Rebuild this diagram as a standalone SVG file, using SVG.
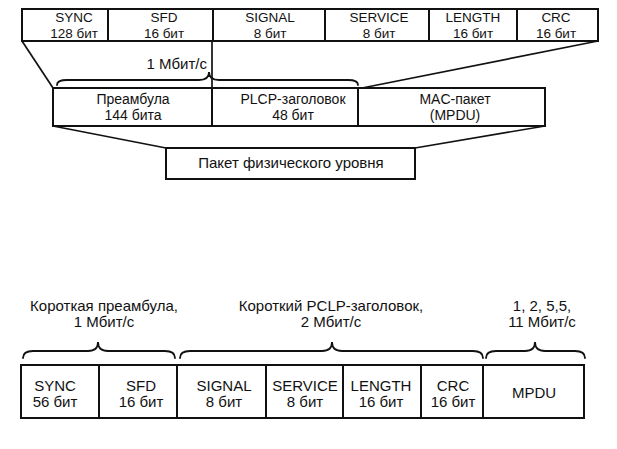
<svg xmlns="http://www.w3.org/2000/svg" width="617" height="449" viewBox="0 0 617 449">
<style>
.box{fill:#fff;stroke:#111;stroke-width:2}
.ln{fill:none;stroke:#111;stroke-width:1.7}
.br{fill:none;stroke:#111;stroke-width:1.8;stroke-linecap:round}
text{font-family:"Liberation Sans","DejaVu Sans",sans-serif;font-size:15px;fill:#111;text-anchor:middle}
.t13{font-size:13.5px}
.t14{font-size:14px}
</style>
<rect width="617" height="449" fill="#fff"/>

<g id="connectors">
<line class="ln" x1="22" y1="41" x2="53" y2="88"/>
<line class="ln" x1="212" y1="41" x2="212" y2="88"/>
<line class="ln" x1="598" y1="41" x2="362" y2="88"/>
<line class="ln" x1="53" y1="126" x2="166" y2="148"/>
<line class="ln" x1="545" y1="126" x2="415" y2="148"/>
</g>

<g id="braces">
<path class="br" d="M57,85 Q57,80 67,80 L199,80 Q209,80 209,72 Q209,80 219,80 L348,80 Q358,80 358,85"/>
<path class="br" d="M23,358 Q23,351 33,351 L88,351 Q98,351 98,342 Q98,351 108,351 L165,351 Q175,351 175,358"/>
<path class="br" d="M180,358 Q180,351 190,351 L322,351 Q332,351 332,342 Q332,351 342,351 L473,351 Q483,351 483,358"/>
<path class="br" d="M486,358 Q486,351 496,351 L525,351 Q535,351 535,342 Q535,351 545,351 L575,351 Q585,351 585,358"/>
</g>

<g id="top-sync"><rect class="box" x="22" y="9" width="86" height="32"/><text class="t13" x="74" y="22">SYNC</text><text class="t13" x="74" y="37.5">128 бит</text></g>
<g id="top-sfd"><rect class="box" x="108" y="9" width="105" height="32"/><text class="t13" x="164" y="22">SFD</text><text class="t13" x="164" y="37.5">16 бит</text></g>
<g id="top-signal"><rect class="box" x="213" y="9" width="112" height="32"/><text class="t13" x="270" y="22">SIGNAL</text><text class="t13" x="270" y="37.5">8 бит</text></g>
<g id="top-service"><rect class="box" x="325" y="9" width="104" height="32"/><text class="t13" x="379" y="22">SERVICE</text><text class="t13" x="379" y="37.5">8 бит</text></g>
<g id="top-length"><rect class="box" x="429" y="9" width="88" height="32"/><text class="t13" x="473" y="22">LENGTH</text><text class="t13" x="473" y="37.5">16 бит</text></g>
<g id="top-crc"><rect class="box" x="517" y="9" width="81" height="32"/><text class="t13" x="556" y="22">CRC</text><text class="t13" x="556" y="37.5">16 бит</text></g>

<g id="rate-label"><text x="207" y="69" style="text-anchor:end">1 Мбит/с</text></g>

<g id="mid-preamble"><rect class="box" x="53" y="88" width="159" height="38"/><text class="t14" x="133" y="104">Преамбула</text><text class="t14" x="133" y="120">144 бита</text></g>
<g id="mid-plcp"><rect class="box" x="212" y="88" width="146" height="38"/><text class="t14" x="293" y="104">PLCP-заголовок</text><text class="t14" x="293" y="120">48 бит</text></g>
<g id="mid-mac"><rect class="box" x="358" y="88" width="187" height="38"/><text class="t14" x="455" y="104">MAC-пакет</text><text class="t14" x="455" y="120">(MPDU)</text></g>

<g id="phy-packet"><rect class="box" x="166" y="148" width="249" height="31"/><text x="291" y="168">Пакет физического уровня</text></g>

<g id="lbl-short-preamble"><text x="104" y="311">Короткая преамбула,</text><text x="104" y="327">1 Мбит/с</text></g>
<g id="lbl-short-plcp"><text x="331" y="311">Короткий PCLP-заголовок,</text><text x="331" y="327">2 Мбит/с</text></g>
<g id="lbl-mpdu-rate"><text x="542" y="311">1, 2, 5,5,</text><text x="542" y="327">11 Мбит/с</text></g>

<g id="b-sync"><rect class="box" x="21" y="365" width="78" height="53"/><text x="55" y="391">SYNC</text><text x="55" y="407">56 бит</text></g>
<g id="b-sfd"><rect class="box" x="99" y="365" width="78" height="53"/><text x="141" y="391">SFD</text><text x="141" y="407">16 бит</text></g>
<g id="b-signal"><rect class="box" x="177" y="365" width="89" height="53"/><text x="224" y="391">SIGNAL</text><text x="224" y="407">8 бит</text></g>
<g id="b-service"><rect class="box" x="266" y="365" width="77" height="53"/><text x="305" y="391">SERVICE</text><text x="305" y="407">8 бит</text></g>
<g id="b-length"><rect class="box" x="343" y="365" width="78" height="53"/><text x="381" y="391">LENGTH</text><text x="381" y="407">16 бит</text></g>
<g id="b-crc"><rect class="box" x="421" y="365" width="62" height="53"/><text x="453" y="391">CRC</text><text x="453" y="407">16 бит</text></g>
<g id="b-mpdu"><rect class="box" x="483" y="365" width="101" height="53"/><text x="534" y="398">MPDU</text></g>
</svg>
